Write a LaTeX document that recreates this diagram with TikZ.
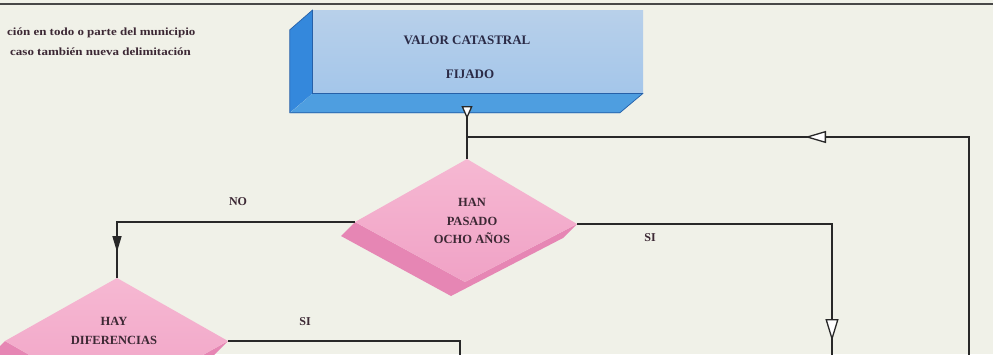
\documentclass[tikz,border=0pt]{standalone}
\usepackage{fontspec}
\setmainfont{Liberation Serif}
\usetikzlibrary{arrows.meta,decorations.markings,calc}
\definecolor{bg}{RGB}{240,241,232}
\definecolor{ink}{RGB}{40,40,40}
\definecolor{txt}{RGB}{60,40,52}
\definecolor{boxtxt}{RGB}{42,42,70}
\definecolor{boxfrontA}{RGB}{184,208,234}
\definecolor{boxfrontB}{RGB}{164,198,234}
\definecolor{boxside}{RGB}{52,136,220}
\definecolor{boxbottom}{RGB}{78,158,224}
\definecolor{boxedge}{RGB}{38,96,168}
\definecolor{pinktop}{RGB}{246,184,210}
\definecolor{pinkmid}{RGB}{240,162,198}
\definecolor{pinkside}{RGB}{230,134,180}
\begin{document}
\begin{tikzpicture}[x=1pt,y=-1pt,
  conn/.style={draw=ink,line width=1.6pt},
  arrowat/.style 2 args={postaction={decorate},
    decoration={markings,mark=at position #1 with {\arrow{#2}}}},
  lbl/.style={font=\fontsize{12}{14}\selectfont\bfseries,text=txt,inner sep=0pt},
  dtext/.style={font=\fontsize{12.5}{18.5}\selectfont\bfseries,text=txt,align=center,inner sep=0pt},
  btext/.style={font=\fontsize{13}{15}\selectfont\bfseries,text=boxtxt,inner sep=0pt},
  note/.style={font=\fontsize{11}{13}\selectfont\bfseries,text=txt,anchor=west,inner sep=0pt}
]
\useasboundingbox (0,0) rectangle (993,354);
\clip (0,0) rectangle (993,354);
\fill[bg] (0,0) rectangle (993,354);
\draw[ink!85,line width=1.3pt] (0,4) -- (993,4);

% notes
\node[note] (note1) at (7,33) {\scalebox{1.18}[1]{ción en todo o parte del municipio}};
\node[note] (note2) at (10,52) {\scalebox{1.18}[1]{caso también nueva delimitación}};

% 3D box
\node[name=box, minimum width=330pt, minimum height=83pt, inner sep=0pt,
  top color=boxfrontA, bottom color=boxfrontB] at (478,51.5) {};
\fill[boxside] (box.north west) -- ++(-23,20) -- ++(0,83) -- (box.south west) -- cycle;
\fill[boxbottom] (box.south west) -- ++(-23,20) -- ++(330,0) -- (box.south east) -- cycle;
\draw[boxedge,line width=0.7pt] (box.north west) -- (box.south west) -- (box.south east);
\draw[boxedge,line width=0.7pt] (box.north west) -- ++(-23,20) -- ++(0,83) -- ++(330,0) -- (box.south east);
\node[btext] (boxt1) at (467,40) {VALOR CATASTRAL};
\node[btext] (boxt2) at (470,74) {FIJADO};
\coordinate (boxout) at (467,110);

% diamond 1
\coordinate (d1t) at (467,159);
\coordinate (d1r) at (577,224);
\coordinate (d1b) at (465,282);
\coordinate (d1l) at (355,222);
\fill[pinkside] (d1l) -- ++(-14,14) -- ($(d1b)+(-14,14)$) -- ($(d1r)+(-14,14)$) -- (d1r) -- (d1b) -- cycle;
\shade[top color=pinktop,bottom color=pinkmid] (d1t) -- (d1r) -- (d1b) -- (d1l) -- cycle;
\node[dtext] (d1) at (472,221) {HAN\\PASADO\\OCHO AÑOS};

% diamond 2
\coordinate (d2t) at (117,278);
\coordinate (d2r) at (228,341);
\coordinate (d2b) at (115,404);
\coordinate (d2l) at (5,341);
\fill[pinkside] (d2l) -- ++(-14,14) -- ($(d2b)+(-14,14)$) -- ($(d2r)+(-14,14)$) -- (d2r) -- (d2b) -- cycle;
\shade[top color=pinktop,bottom color=pinkmid] (d2t) -- (d2r) -- (d2b) -- (d2l) -- cycle;
\node[dtext] (d2) at (114,331) {HAY\\DIFERENCIAS};

% free ends
\coordinate (j) at (467,137);
\coordinate (loopend) at (969,356);
\coordinate (si1end) at (832,356);
\coordinate (si2end) at (460,356);

% connectors
\draw[conn, arrowat={9pt}{Triangle[fill=white,length=13pt,width=11pt,line width=1.3pt]}] (boxout) -- (d1t);
\draw[conn, arrowat={383pt}{Triangle[fill=white,length=21pt,width=12pt,line width=1.3pt]}] (loopend) |- (j);
\draw[conn, arrowat={268pt}{Triangle[length=16pt,width=9pt]}] (d1l) -| (d2t);
\draw[conn, arrowat={372pt}{Triangle[fill=white,length=22pt,width=13pt,line width=1.3pt]}] (d1r) -| (si1end);
\draw[conn] (d2r) -| (si2end);

% labels
\node[lbl] (lno) at (238,202) {NO};
\node[lbl] (lsi1) at (650,238) {SI};
\node[lbl] (lsi2) at (305,322) {SI};
\end{tikzpicture}
\end{document}
